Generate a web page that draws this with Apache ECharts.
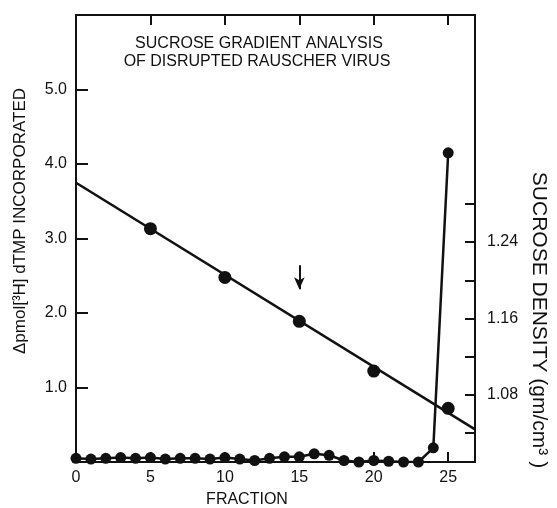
<!DOCTYPE html>
<html>
<head>
<meta charset="utf-8">
<script src="https://cdn.jsdelivr.net/npm/echarts@6/dist/echarts.min.js"></script>
<style>
  html, body { margin: 0; padding: 0; background: #fff; }
  #main { width: 557px; height: 508px; }
</style>
</head>
<body>
<div id="main"></div>
<script>
// fraction numbers
var fractions = [0, 1, 2, 3, 4, 5, 6, 7, 8, 9, 10, 11, 12, 13, 14, 15, 16, 17, 18, 19, 20, 21, 22, 23, 24, 25];
// Δpmol [3H] dTMP incorporated
var activity = [0.05, 0.04, 0.05, 0.06, 0.05, 0.06, 0.04, 0.05, 0.05, 0.04, 0.06, 0.04, 0.02,
  0.05, 0.07, 0.07, 0.11, 0.09, 0.02, 0.0, 0.02, 0.01, 0.0, 0.0, 0.19, 4.15];
// measured sucrose density
var densityFractions = [5, 10, 15, 20, 25];
var density = [1.254, 1.203, 1.157, 1.105, 1.066];
// fitted density line (start / end)
var fitFractions = [0, 26.8];
var fitDensity = [1.302, 1.044];
// tick labels
var leftLabels = ["1.0", "2.0", "3.0", "4.0", "5.0"];
var rightLabels = ["1.08", "1.16", "1.24"];
// arrow marking fraction 15
var arrowX = 15;
var arrowY = [2.64, 2.32];

var FONT = "'Liberation Sans', Arial, sans-serif";
var INK = "#111";

var chart = echarts.init(document.getElementById("main"));

var option = {
  backgroundColor: "#fff",
  animation: false,
  grid: [
    { left: 76, right: 82, top: 15, bottom: 46 },
    // density scale: 1.04 .. 1.28 part of the right axis
    { left: 76, right: 82, top: 203.8, bottom: 74.8 }
  ],
  graphic: [
    {
      type: "text", x: 259, y: 44,
      style: { text: "SUCROSE GRADIENT ANALYSIS", fill: INK, font: "16px " + FONT, align: "center", verticalAlign: "middle" }
    },
    {
      type: "text", x: 257, y: 62,
      style: { text: "OF DISRUPTED RAUSCHER VIRUS", fill: INK, font: "16px " + FONT, align: "center", verticalAlign: "middle" }
    },
    {
      // left axis name
      type: "text", x: 20, y: 221, rotation: Math.PI / 2,
      style: { text: "\u0394pmol[\u00b3H] dTMP INCORPORATED", fill: INK, font: "17px " + FONT, align: "center", verticalAlign: "middle" }
    },
    {
      // right axis name
      type: "text", x: 539, y: 320, rotation: -Math.PI / 2,
      style: { text: "SUCROSE DENSITY (gm/cm\u00b3 )", fill: INK, font: "21px " + FONT, align: "center", verticalAlign: "middle" }
    },
    {
      type: "text", x: 247, y: 500,
      style: { text: "FRACTION", fill: INK, font: "16px " + FONT, align: "center", verticalAlign: "middle" }
    }
  ],
  xAxis: [
    {
      gridIndex: 0, type: "value", min: 0, max: 26.8, interval: 5, position: "bottom",
      axisLine: { onZero: false, lineStyle: { color: INK, width: 2 } },
      axisTick: { inside: true, length: 10, lineStyle: { color: INK, width: 2 } },
      axisLabel: {
        color: INK, fontSize: 16, fontFamily: FONT, margin: 8,
        formatter: function (v) { return v % 5 === 0 ? String(v) : ""; }
      },
      splitLine: { show: false }
    },
    {
      gridIndex: 0, type: "value", min: 0, max: 26.8, interval: 5, position: "top",
      axisLine: { onZero: false, lineStyle: { color: INK, width: 2 } },
      axisTick: { inside: true, length: 10, lineStyle: { color: INK, width: 2 } },
      axisLabel: { show: false },
      splitLine: { show: false }
    },
    {
      gridIndex: 1, type: "value", min: 0, max: 26.8, show: false
    }
  ],
  yAxis: [
    {
      gridIndex: 0, type: "value", min: 0, max: 6, interval: 1, position: "left",
      axisLine: { show: true, onZero: false, lineStyle: { color: INK, width: 2 } },
      axisTick: { inside: true, length: 12, lineStyle: { color: INK, width: 2 } },
      axisLabel: {
        color: INK, fontSize: 16, fontFamily: FONT, margin: 9,
        formatter: function (v) {
          var s = v.toFixed(1);
          return leftLabels.indexOf(s) >= 0 ? s : "";
        }
      },
      splitLine: { show: false }
    },
    {
      // plain right border of the box
      gridIndex: 0, type: "value", min: 0, max: 6, position: "right",
      axisLine: { show: true, onZero: false, lineStyle: { color: INK, width: 2 } },
      axisTick: { show: false },
      axisLabel: { show: false },
      splitLine: { show: false }
    },
    {
      gridIndex: 1, type: "value", min: 1.04, max: 1.28, interval: 0.04, position: "right",
      axisLine: { show: false, onZero: false },
      axisTick: { inside: true, length: 10, lineStyle: { color: INK, width: 2 } },
      axisLabel: {
        color: INK, fontSize: 16, fontFamily: FONT, margin: 12,
        formatter: function (v) {
          var s = v.toFixed(2);
          return rightLabels.indexOf(s) >= 0 ? s : "";
        }
      },
      splitLine: { show: false }
    }
  ],
  series: [
    {
      name: "fit", type: "line", xAxisIndex: 2, yAxisIndex: 2, clip: false,
      data: fitFractions.map(function (f, i) { return [f, fitDensity[i]]; }),
      symbol: "none", lineStyle: { color: INK, width: 2.5 }, z: 2
    },
    {
      name: "density", type: "scatter", xAxisIndex: 2, yAxisIndex: 2, clip: false,
      data: densityFractions.map(function (f, i) { return [f, density[i]]; }),
      symbol: "circle", symbolSize: 13, itemStyle: { color: INK, opacity: 1 }, z: 3
    },
    {
      name: "activity", type: "line", xAxisIndex: 0, yAxisIndex: 0,
      data: fractions.map(function (f, i) { return [f, activity[i]]; }),
      symbol: "circle", symbolSize: 11, showAllSymbol: true,
      lineStyle: { color: INK, width: 2.5 }, itemStyle: { color: INK, opacity: 1 }, z: 3,
      markLine: {
        silent: true, symbol: ["none", "arrow"], symbolSize: [8, 12],
        label: { show: false },
        lineStyle: { color: INK, width: 2, type: "solid" },
        data: [[{ coord: [arrowX, arrowY[0]] }, { coord: [arrowX, arrowY[1]] }]]
      }
    }
  ]
};

chart.setOption(option);
</script>
</body>
</html>
